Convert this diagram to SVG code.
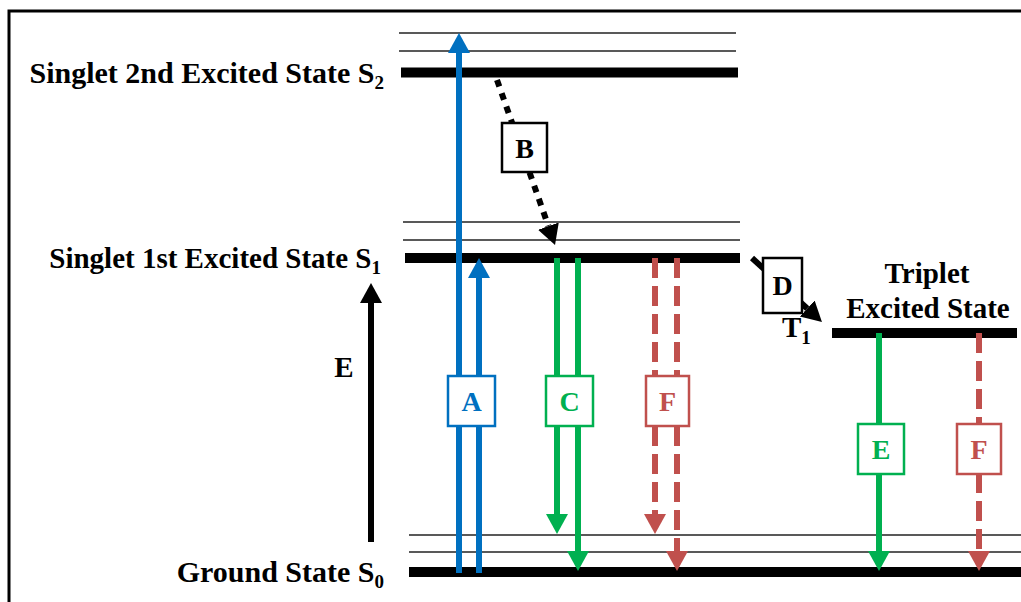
<svg xmlns="http://www.w3.org/2000/svg" width="1021" height="602" viewBox="0 0 1021 602">
<defs>
<style>
.lbl{font-family:"Liberation Serif","Times New Roman",serif;font-weight:bold;font-size:29px;fill:#000}
.big{font-size:30px}
.box{font-family:"Liberation Serif","Times New Roman",serif;font-weight:bold;font-size:28px;text-anchor:middle}
.bar{fill:#000}
.thin{stroke:#222;stroke-width:1.5}
.bx{fill:#fff;stroke-width:2.5}
.blue{stroke:#0070C0;stroke-width:6;fill:none}
.green{stroke:#00B050;stroke-width:6;fill:none}
.red{stroke:#C0504D;stroke-width:6;fill:none;stroke-dasharray:20 8}
.blk{stroke:#000;stroke-width:6;fill:none}
.sub{font-size:19px}
</style>
<marker id="hb" markerUnits="userSpaceOnUse" markerWidth="22" markerHeight="24" refX="0" refY="11" orient="auto" viewBox="0 0 22 22"><path d="M0,0 L20,11 L0,22 Z" fill="#0070C0"/></marker>
<marker id="hg" markerUnits="userSpaceOnUse" markerWidth="22" markerHeight="24" refX="0" refY="11" orient="auto" viewBox="0 0 22 22"><path d="M0,0 L20,11 L0,22 Z" fill="#00B050"/></marker>
<marker id="hr" markerUnits="userSpaceOnUse" markerWidth="22" markerHeight="24" refX="0" refY="11" orient="auto" viewBox="0 0 22 22"><path d="M0,0 L20,11 L0,22 Z" fill="#C0504D"/></marker>
<marker id="hk" markerUnits="userSpaceOnUse" markerWidth="22" markerHeight="24" refX="0" refY="11" orient="auto" viewBox="0 0 22 22"><path d="M0,0 L20,11 L0,22 Z" fill="#000"/></marker>
</defs>
<rect width="1021" height="602" fill="#fff"/>
<path d="M9,602 V11 H1021" fill="none" stroke="#000" stroke-width="3"/>

<g id="S2">
<line class="thin" x1="399" y1="33" x2="736" y2="33"/>
<line class="thin" x1="399" y1="51" x2="736" y2="51"/>
<rect class="bar" x="401" y="67.5" width="337" height="10"/>
<text class="lbl big" x="384" y="83" text-anchor="end">Singlet 2nd Excited State S<tspan class="sub" dy="6">2</tspan></text>
</g>
<g id="S1">
<line class="thin" x1="403" y1="222" x2="740" y2="222"/>
<line class="thin" x1="403" y1="240" x2="740" y2="240"/>
<rect class="bar" x="405" y="253" width="335" height="10"/>
<text class="lbl" x="381" y="268" text-anchor="end">Singlet 1st Excited State S<tspan class="sub" dy="6">1</tspan></text>
</g>
<g id="S0">
<line class="thin" x1="409" y1="535" x2="1021" y2="535"/>
<line class="thin" x1="409" y1="552" x2="1021" y2="552"/>
<rect class="bar" x="409" y="567" width="612" height="10"/>
<text class="lbl big" x="384" y="582" text-anchor="end">Ground State S<tspan class="sub" dy="6">0</tspan></text>
</g>
<g id="T1">
<rect class="bar" x="832" y="328" width="185" height="10"/>
<text class="lbl" x="927" y="283" text-anchor="middle">Triplet</text>
<text class="lbl" x="928" y="318" text-anchor="middle">Excited State</text>
<text class="lbl" x="782" y="337">T<tspan class="sub" dy="7">1</tspan></text>
</g>

<g id="connectors">
<line class="blue" x1="459" y1="573" x2="459" y2="53" marker-end="url(#hb)"/>
<line class="blue" x1="479" y1="573" x2="479" y2="278" marker-end="url(#hb)"/>
<line class="green" x1="557" y1="258" x2="557" y2="514" marker-end="url(#hg)"/>
<line class="green" x1="578" y1="258" x2="578" y2="551" marker-end="url(#hg)"/>
<line class="red" x1="655" y1="258" x2="655" y2="514" marker-end="url(#hr)"/>
<line class="red" x1="677" y1="258" x2="677" y2="551" marker-end="url(#hr)"/>
<line class="green" x1="879" y1="333" x2="879" y2="551" marker-end="url(#hg)"/>
<line class="red" x1="979" y1="333" x2="979" y2="551" marker-end="url(#hr)"/>
<line class="blk" x1="371" y1="542" x2="371" y2="303" marker-end="url(#hk)"/>
<line class="blk" x1="497" y1="80" x2="548.4" y2="226.1" stroke-dasharray="7 7" marker-end="url(#hk)"/>
<line class="blk" x1="752" y1="258" x2="807.2" y2="308.5" stroke-width="5" marker-end="url(#hk)"/>
</g>

<g id="axisE"><text class="lbl" x="344" y="377" text-anchor="middle">E</text></g>

<g id="boxA"><rect class="bx" x="448" y="376" width="47" height="50" stroke="#0070C0"/><text class="box" x="471.5" y="411" fill="#0070C0">A</text></g>
<g id="boxB"><rect class="bx" x="502" y="123" width="45" height="49" stroke="#000"/><text class="box" x="524.5" y="157.5" fill="#000">B</text></g>
<g id="boxC"><rect class="bx" x="546" y="376" width="47" height="50" stroke="#00B050"/><text class="box" x="569.5" y="411" fill="#00B050">C</text></g>
<g id="boxD"><rect class="bx" x="763" y="258" width="39" height="55" stroke="#000"/><text class="box" x="782.5" y="295" fill="#000">D</text></g>
<g id="boxF1"><rect class="bx" x="646" y="376" width="43" height="50" stroke="#C0504D"/><text class="box" x="667.5" y="411" fill="#C0504D">F</text></g>
<g id="boxE"><rect class="bx" x="858" y="424" width="46" height="50" stroke="#00B050"/><text class="box" x="881" y="459" fill="#00B050">E</text></g>
<g id="boxF2"><rect class="bx" x="957" y="424" width="44" height="50" stroke="#C0504D"/><text class="box" x="979" y="459" fill="#C0504D">F</text></g>
</svg>
